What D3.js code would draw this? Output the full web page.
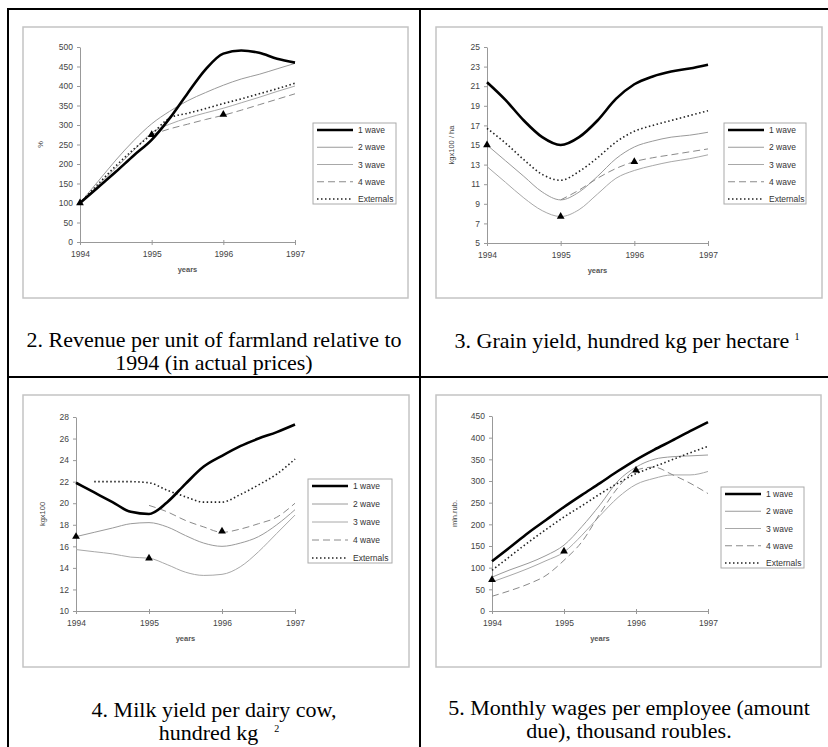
<!DOCTYPE html>
<html>
<head>
<meta charset="utf-8">
<script src="https://cdn.jsdelivr.net/npm/d3@7"></script>
<style>
body { margin: 0; background: #fff; }
.cap { font-size: 22px; fill: #000; }
</style>
</head>
<body>
<div id="chart"></div>
<script>
// shared x categories (quarters) and names
const quarters = [1994, 1994.25, 1994.5, 1994.75, 1995, 1995.25, 1995.5, 1995.75, 1996, 1996.25, 1996.5, 1996.75, 1997];
const yearTicks = [1994, 1995, 1996, 1997];
const seriesNames = ["1 wave", "2 wave", "3 wave", "4 wave", "Externals"];

// 2. revenue per unit of farmland, %
const revTicks = [0, 50, 100, 150, 200, 250, 300, 350, 400, 450, 500];
const revWave1 = [100, 140, 180, 222, 262, 317, 381, 442, 483, 491, 485, 470, 460];
const revWave2 = [100, 155, 210, 260, 303, 335, 362, 383, 402, 418, 430, 444, 458];
const revWave3 = [100, 145, 190, 235, 280, 302, 318, 331, 343, 357, 371, 386, 400];
const revWave4 = [null, null, null, null, 275, 290, 302, 314, 325, 338, 352, 366, 380];
const revExt   = [100, 148, 195, 238, 276, 318, 330, 342, 355, 367, 380, 393, 407];
const revMarks = [[1994, 100], [1995, 275], [1996, 327]];

// 3. grain yield, kgx100/ha
const grainTicks = [5, 7, 9, 11, 13, 15, 17, 19, 21, 23, 25];
const grainWave1 = [21.4, 19.6, 17.5, 15.8, 15.0, 15.8, 17.5, 19.7, 21.2, 22.0, 22.5, 22.8, 23.2];
const grainWave2 = [15.0, 13.4, 11.8, 10.2, 9.4, 10.2, 11.8, 13.6, 14.8, 15.4, 15.8, 16.0, 16.3];
const grainWave3 = [12.8, 11.2, 9.6, 8.3, 7.7, 8.4, 10.0, 11.6, 12.4, 12.9, 13.3, 13.6, 14.0];
const grainWave4 = [null, null, null, null, 9.4, 10.4, 11.6, 12.6, 13.3, 13.7, 14.0, 14.3, 14.6];
const grainExt   = [16.7, 15.2, 13.5, 12.0, 11.4, 12.3, 13.7, 15.3, 16.4, 17.0, 17.5, 18.0, 18.5];
const grainMarks = [[1994, 15.0], [1995, 7.7], [1996, 13.3]];

// 4. milk yield, kgx100
const milkTicks = [10, 12, 14, 16, 18, 20, 22, 24, 26, 28];
const milkWave1 = [21.9, 21.0, 20.1, 19.2, 19.0, 20.1, 21.8, 23.4, 24.4, 25.3, 26.0, 26.6, 27.3];
const milkWave2 = [16.9, 17.3, 17.7, 18.1, 18.2, 17.8, 17.0, 16.3, 16.0, 16.3, 16.9, 18.0, 19.4];
const milkWave3 = [15.7, 15.5, 15.3, 15.0, 14.9, 14.3, 13.6, 13.3, 13.4, 14.1, 15.5, 17.2, 18.9];
const milkWave4 = [null, null, null, null, 19.8, 19.2, 18.4, 17.8, 17.3, 17.6, 18.1, 18.7, 20.0];
const milkExt   = [null, 22.0, 22.0, 22.0, 21.9, 21.2, 20.6, 20.1, 20.1, 20.8, 21.7, 22.7, 24.1];
const milkMarks = [[1994, 16.9], [1995, 14.9], [1996, 17.4]];

// 5. monthly wages, mln.rub.
const wageTicks = [0, 50, 100, 150, 200, 250, 300, 350, 400, 450];
const wageWave1 = [115, 147, 180, 210, 240, 268, 295, 323, 349, 372, 393, 415, 436];
const wageWave2 = [78, 95, 110, 128, 152, 195, 245, 300, 332, 350, 356, 358, 360];
const wageWave3 = [67, 82, 98, 116, 136, 175, 220, 262, 292, 306, 314, 314, 322];
const wageWave4 = [34, 47, 62, 82, 117, 160, 225, 285, 325, 332, 315, 295, 271];
const wageExt   = [94, 126, 158, 188, 217, 243, 270, 295, 317, 333, 349, 365, 380];
const wageMarks = [[1994, 72], [1995, 138], [1996, 325]];

const sans = "Arial, 'Liberation Sans', sans-serif";
const serif = "'Liberation Serif', 'Times New Roman', serif";

const styles = [
  { stroke: "#000", width: 2.6, dash: null },
  { stroke: "#9a9a9a", width: 1, dash: null },
  { stroke: "#a8a8a8", width: 1, dash: null },
  { stroke: "#8a8a8a", width: 1, dash: "7,4" },
  { stroke: "#222", width: 1.6, dash: "1.5,2.5" }
];

const panels = [
  { box: [23, 27, 385, 271], plot: [57, 272, 20, 215], ticks: revTicks, ylabel: "%", ylx: 20,
    series: [revWave1, revWave2, revWave3, revWave4, revExt], marks: revMarks, legend: [290, 96, 83, 81] },
  { box: [436, 27, 386, 271], plot: [51, 272, 20, 216], ticks: grainTicks, ylabel: "kgx100 / ha", ylx: 18,
    series: [grainWave1, grainWave2, grainWave3, grainWave4, grainExt], marks: grainMarks, legend: [288, 96, 82, 81] },
  { box: [23, 395, 386, 272], plot: [53, 272, 22, 216], ticks: milkTicks, ylabel: "kgx100", ylx: 22,
    series: [milkWave1, milkWave2, milkWave3, milkWave4, milkExt], marks: milkMarks, legend: [285, 84, 84, 84] },
  { box: [436, 395, 385, 272], plot: [56, 272, 21, 216], ticks: wageTicks, ylabel: "mln.rub.", ylx: 21,
    series: [wageWave1, wageWave2, wageWave3, wageWave4, wageExt], marks: wageMarks, legend: [285, 92, 83, 81] }
];

const svg = d3.select("#chart").append("svg")
  .attr("width", 828)
  .attr("height", 747);

// table frame
const frame = svg.append("g").attr("stroke", "#000").attr("stroke-width", 2);
frame.append("line").attr("x1", 7).attr("x2", 828).attr("y1", 9).attr("y2", 9);
frame.append("line").attr("x1", 8).attr("x2", 8).attr("y1", 8).attr("y2", 747);
frame.append("line").attr("x1", 7).attr("x2", 828).attr("y1", 377).attr("y2", 377);
frame.append("line").attr("x1", 420).attr("x2", 420).attr("y1", 8).attr("y2", 747);

panels.forEach(p => {
  const g = svg.append("g")
    .attr("transform", `translate(${p.box[0]},${p.box[1]})`)
    .attr("font-family", sans);

  g.append("rect")
    .attr("width", p.box[2])
    .attr("height", p.box[3])
    .attr("fill", "#fff")
    .attr("stroke", "#c4c4c4")
    .attr("stroke-width", 1.5);

  const x = d3.scaleLinear().domain([1994, 1997]).range([p.plot[0], p.plot[1]]);
  const y = d3.scaleLinear().domain(d3.extent(p.ticks)).range([p.plot[3], p.plot[2]]);

  // y axis
  const ya = g.append("g")
    .attr("transform", `translate(${p.plot[0]},0)`)
    .call(d3.axisLeft(y).tickValues(p.ticks).tickSize(3).tickPadding(4).tickSizeOuter(0));
  // x axis
  const xa = g.append("g")
    .attr("transform", `translate(0,${p.plot[3]})`)
    .call(d3.axisBottom(x).tickValues(yearTicks).tickFormat(d3.format("d")).tickSize(3).tickPadding(6).tickSizeOuter(0));
  xa.selectAll(".tick line").attr("y1", -2);

  [ya, xa].forEach(a => {
    a.attr("font-family", sans);
    a.select(".domain").attr("stroke", "#999");
    a.selectAll(".tick line").attr("stroke", "#999");
    a.selectAll("text").attr("font-size", 8.5).attr("fill", "#444");
  });

  g.append("text")
    .attr("transform", `translate(${p.ylx},${(p.plot[2] + p.plot[3]) / 2}) rotate(-90)`)
    .attr("text-anchor", "middle")
    .attr("font-size", 7.5)
    .attr("fill", "#444")
    .text(p.ylabel);

  g.append("text")
    .attr("x", (p.plot[0] + p.plot[1]) / 2)
    .attr("y", p.plot[3] + 30)
    .attr("text-anchor", "middle")
    .attr("font-size", 7.5)
    .attr("font-weight", "bold")
    .attr("fill", "#555")
    .text("years");

  const line = d3.line()
    .defined(d => d[1] != null)
    .x(d => x(d[0]))
    .y(d => y(d[1]))
    .curve(d3.curveMonotoneX);

  // draw thin lines first, thick wave 1 on top
  [1, 2, 3, 4, 0].forEach(i => {
    const s = styles[i];
    g.append("path")
      .datum(quarters.map((q, k) => [q, p.series[i][k]]))
      .attr("fill", "none")
      .attr("stroke", s.stroke)
      .attr("stroke-width", s.width)
      .attr("stroke-dasharray", s.dash)
      .attr("stroke-linejoin", "round")
      .attr("d", line);
  });

  g.selectAll(".mark")
    .data(p.marks)
    .enter()
    .append("path")
    .attr("class", "mark")
    .attr("transform", d => `translate(${x(d[0])},${y(d[1])})`)
    .attr("d", d3.symbol(d3.symbolTriangle, 26))
    .attr("fill", "#000");

  // legend
  const lg = g.append("g").attr("transform", `translate(${p.legend[0]},${p.legend[1]})`);
  lg.append("rect")
    .attr("width", p.legend[2])
    .attr("height", p.legend[3])
    .attr("fill", "#fff")
    .attr("stroke", "#aaa")
    .attr("stroke-width", 1);
  const step = (p.legend[3] - 12) / 4;
  seriesNames.forEach((name, i) => {
    const s = styles[i];
    const yy = 7 + i * step;
    lg.append("line")
      .attr("x1", 4).attr("x2", 40)
      .attr("y1", yy).attr("y2", yy)
      .attr("stroke", s.stroke)
      .attr("stroke-width", s.width)
      .attr("stroke-dasharray", s.dash);
    lg.append("text")
      .attr("x", 45)
      .attr("y", yy + 3)
      .attr("font-size", 8.5)
      .attr("fill", "#333")
      .text(name);
  });
});

// captions
const caps = svg.append("g").attr("font-family", serif);
function cap(x, y, txt, sup, gap) {
  const t = caps.append("text")
    .attr("class", "cap")
    .attr("font-family", serif)
    .attr("x", x).attr("y", y)
    .attr("text-anchor", "middle");
  t.append("tspan").text(txt);
  if (sup) t.append("tspan").attr("dx", gap).attr("dy", -8).attr("font-size", 10).text(sup);
}
cap(214, 347, "2. Revenue per unit of farmland relative to");
cap(214, 370, "1994 (in actual prices)");
cap(627, 348, "3. Grain yield, hundred kg per hectare", "1", 5);
cap(214, 717, "4. Milk yield per dairy cow,");
cap(219, 740, "hundred kg", "2", 16);
cap(629, 715, "5. Monthly wages per employee (amount");
cap(629, 738, "due), thousand roubles.");
</script>
</body>
</html>
